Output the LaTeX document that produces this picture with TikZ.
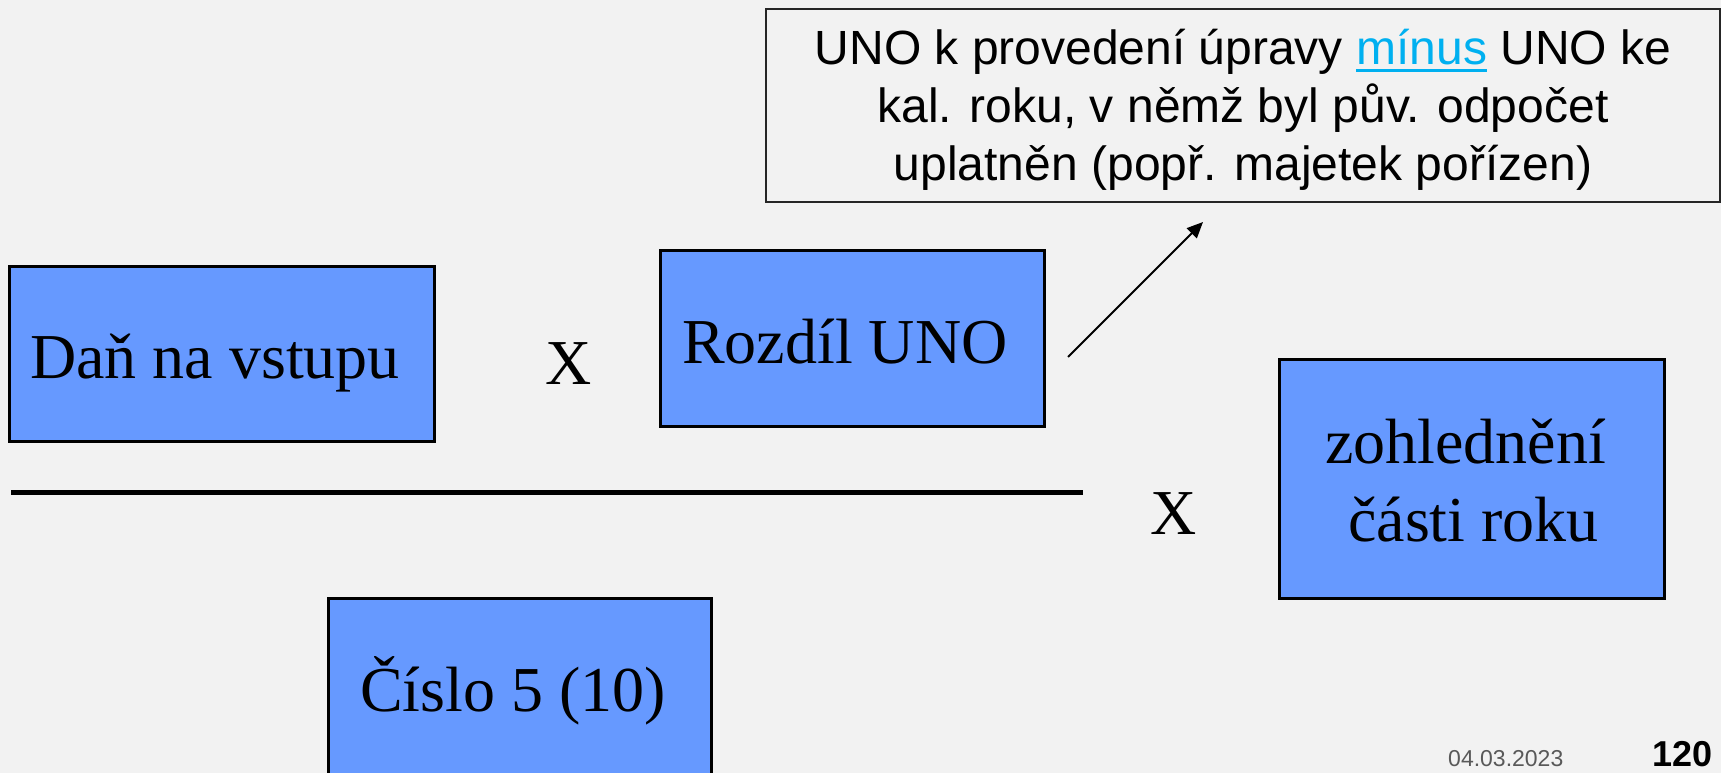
\documentclass[tikz,border=0pt]{standalone}
\usepackage{fontspec}
\setmainfont{Liberation Serif}
\newfontfamily\arial{Liberation Sans}
\usetikzlibrary{arrows.meta}
\definecolor{bg}{HTML}{F2F2F2}
\definecolor{boxblue}{HTML}{6699FF}
\definecolor{linkblue}{HTML}{00B0F0}
\definecolor{dategray}{HTML}{595959}
\newcommand\linkul[1]{\setbox0\hbox{#1}\rlap{\rule[-7pt]{\wd0}{3pt}}\box0}
\tikzset{
  bluebox/.style={draw=black, line width=3pt, fill=boxblue, inner sep=0pt},
  callout/.style={draw=black!85, line width=1.5pt, fill=bg, inner sep=0pt},
  boxtext/.style={font=\fontsize{64}{75}\selectfont, inner sep=0pt, anchor=base west},
  notetext/.style={font=\arial\fontsize{48}{58}\selectfont, inner sep=0pt, anchor=base},
}
\begin{document}
\begin{tikzpicture}[x=1pt,y=-1pt]
\useasboundingbox (0,0) rectangle (1721,773);
\clip (0,0) rectangle (1721,773);
\fill[bg] (0,0) rectangle (1721,773);

% callout
\node[callout, minimum width=954pt, minimum height=193pt] (note) at (1243,105.5) {};
\node[notetext] (note1) at (1243,65) {UNO k provedení úpravy {\color{linkblue}\linkul{mínus}} UNO ke};
\node[notetext] (note2) at (1243,123) {kal. roku, v němž byl pův. odpočet};
\node[notetext] (note3) at (1243,180) {uplatněn (popř. majetek pořízen)};

% boxes
\node[bluebox, minimum width=425pt, minimum height=175pt] (dan) at (221.5,353.5) {};
\node[boxtext] (danT) at (30,378) {Daň na vstupu};

\node[boxtext] (x1) at (545,384) {X};

\node[bluebox, minimum width=384pt, minimum height=176pt] (rozdil) at (852,338) {};
\node[boxtext] (rozdilT) at (682,363) {Rozdíl UNO};

\node[bluebox, minimum width=385pt, minimum height=239pt] (zohl) at (1471.5,478.5) {};
\node[boxtext] (zohlT1) at (1325,463) {zohlednění};
\node[boxtext] (zohlT2) at (1348,541) {části roku};

\node[boxtext] (x2) at (1150,534) {X};

\node[bluebox, minimum width=383pt, minimum height=202pt] (cislo) at (519.5,699) {};
\node[boxtext] (cisloT) at (360,711) {Číslo 5 (10)};

% fraction bar
\coordinate (lineL) at (11,492);
\coordinate (lineR) at (1083,492);
\draw[line width=5pt] (lineL) -- (lineR);

% arrow to callout
\coordinate (arrS) at (1068,357);
\coordinate (arrE) at (1203,222);
\draw[line width=2pt, -{Triangle[length=16pt,width=14pt]}] (arrS) -- (arrE);

% footer
\node[font=\arial\fontsize{23}{27}\selectfont, text=dategray, anchor=base west, inner sep=0pt] (date) at (1448,766) {04.03.2023};
\node[font=\arial\bfseries\fontsize{36}{40}\selectfont, anchor=base west, inner sep=0pt] (pnum) at (1652,766) {120};
\end{tikzpicture}
\end{document}
